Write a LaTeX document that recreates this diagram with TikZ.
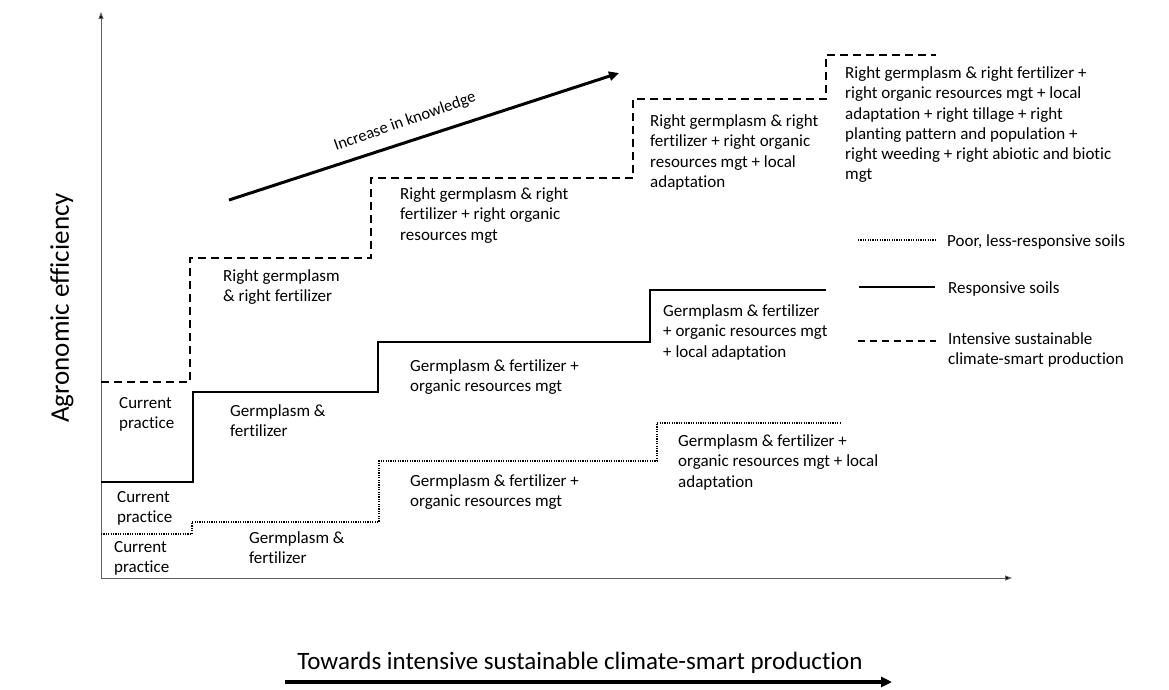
\documentclass[tikz,border=0pt]{standalone}
\usepackage{fontspec}
\setmainfont{Carlito}[Ligatures=NoCommon]
\usetikzlibrary{arrows.meta}
\begin{document}
\begin{tikzpicture}[x=1pt,y=-1pt,
  lbl/.style={anchor=north west, inner sep=0pt, align=left, font=\fontsize{17}{20.3}\selectfont},
  axisline/.style={draw=gray!75!black, line width=0.9pt, -{Triangle[length=7pt,width=5pt,fill=black]}},
  dashline/.style={line width=2pt, dash pattern=on 8pt off 5pt},
  solidline/.style={line width=2pt},
  dotline/.style={line width=1.6pt, dash pattern=on 1.2pt off 1.2pt},
  bigarrow/.style={line width=3pt, -{Triangle[length=10pt,width=9pt]}},
]
\useasboundingbox (0,0) rectangle (1169,690);
% axes
\coordinate (O) at (101,578);
\coordinate (ytip) at (101,12);
\coordinate (xtip) at (1012,578);
\draw[axisline] (O) -- (ytip);
\draw[axisline] (O) -- (xtip);
\node[rotate=90, font=\fontsize{27}{30}\selectfont] (ylab) at (62,308) {Agronomic efficiency};
% bottom arrow
\node[font=\fontsize{25}{30}\selectfont, inner sep=0pt] (xlab) at (580,663) {Towards intensive sustainable climate-smart production};
\coordinate (ba) at (285,682);
\coordinate (bb) at (892,682);
\draw[line width=3.5pt, -{Triangle[length=11pt,width=10pt]}] (ba) -- (bb);
% knowledge arrow
\coordinate (ka) at (229,200);
\coordinate (kb) at (619,73);
\draw[bigarrow] (ka) -- (kb);
\node[rotate=19.5, font=\fontsize{16.5}{18}\selectfont, inner sep=0pt] (klab) at (405,122) {Increase in knowledge};
% dashed steps
\draw[dashline] (101,382) -- (190,382) -- (190,258) -- (371,258) -- (371,178) -- (633,178) -- (633,99) -- (826,99) -- (826,55) -- (936,55);
% solid steps
\draw[solidline] (101,482) -- (193,482) -- (193,392) -- (378,392) -- (378,342) -- (650,342) -- (650,290) -- (826,290);
% dotted steps
\draw[dotline] (101,534) -- (192,534) -- (192,522) -- (379,522) -- (379,461) -- (657,461) -- (657,423) -- (840,423);
% labels
\node[lbl] (cp1) at (119,394) {\strut Current\\practice};
\node[lbl] (cp2) at (117,488) {\strut Current\\practice};
\node[lbl] (cp3) at (114,538) {\strut Current\\practice};
\node[lbl] (gf1) at (230,402) {\strut Germplasm \&\\fertilizer};
\node[lbl] (gf2) at (249,529) {\strut Germplasm \&\\fertilizer};
\node[lbl] (r1) at (223,267) {\strut Right germplasm\\\& right fertilizer};
\node[lbl] (r2) at (400,185) {\strut Right germplasm \& right\\fertilizer + right organic\\resources mgt};
\node[lbl] (r3) at (650,112) {\strut Right germplasm \& right\\fertilizer + right organic\\resources mgt + local\\adaptation};
\node[lbl] (r4) at (845,64) {\strut Right germplasm \& right fertilizer +\\right organic resources mgt + local\\adaptation + right tillage + right\\planting pattern and population +\\right weeding + right abiotic and biotic\\mgt};
\node[lbl] (s2) at (410,357) {\strut Germplasm \& fertilizer +\\organic resources mgt};
\node[lbl] (s3) at (663,302) {\strut Germplasm \& fertilizer\\+ organic resources mgt\\+ local adaptation};
\node[lbl] (d2) at (410,472) {\strut Germplasm \& fertilizer +\\organic resources mgt};
\node[lbl] (d3) at (678,432) {\strut Germplasm \& fertilizer +\\organic resources mgt + local\\adaptation};
% legend
\coordinate (l1a) at (858,240); \coordinate (l1b) at (935,240);
\coordinate (l2a) at (859,287); \coordinate (l2b) at (935,287);
\coordinate (l3a) at (858,341); \coordinate (l3b) at (936,341);
\draw[dotline, line width=1.3pt] (l1a) -- (l1b);
\draw[line width=1.6pt] (l2a) -- (l2b);
\draw[dashline, line width=1.6pt, dash pattern=on 7pt off 5pt] (l3a) -- (l3b);
\node[lbl] (t1) at (947,232) {\strut Poor, less-responsive soils};
\node[lbl] (t2) at (948,279) {\strut Responsive soils};
\node[lbl] (t3) at (948,330) {\strut Intensive sustainable\\climate-smart production};
\end{tikzpicture}
\end{document}
